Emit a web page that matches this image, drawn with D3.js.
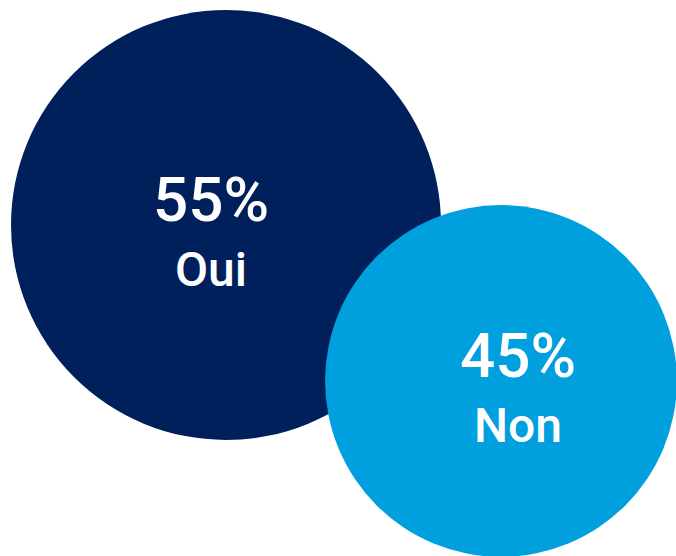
<!DOCTYPE html>
<html>
<head>
<meta charset="utf-8">
<script src="https://cdn.jsdelivr.net/npm/d3@7"></script>
<style>
body { margin: 0; background: #fff; }
</style>
</head>
<body>
<svg id="svg1"></svg>
<script>
var labels = ["Oui", "Non"];
var values = [55, 45];
var colors = ["#00205b", "#00a0df"];

var svg1 = d3.select("#svg1").attr("width", 676).attr("height", 556);

// radius proportional to the value
var rScale = d3.scaleLinear()
	.domain([0, 55])
	.range([0, 215]);

var centers = [[226, 225], [501, 381]];
var textOffset = [-15, 17];

var bubbles = svg1.selectAll(".bubble")
	.data(values)
	.enter()
	.append("g")
		.attr("class", "bubble")
		.attr("transform", function(d, i){
			return "translate(" + centers[i][0] + "," + centers[i][1] + ")";
		});

bubbles.append("circle")
	.attr("r", function(d){ return rScale(d); })
	.attr("fill", function(d, i){ return colors[i]; });

bubbles.append("text")
	.attr("x", function(d, i){ return textOffset[i]; })
	.attr("y", -4)
	.attr("text-anchor", "middle")
	.attr("fill", "white")
	.style("font-family", "Roboto, sans-serif")
	.style("font-weight", 500)
	.style("font-size", "62px")
	.text(function(d){ return d + "%"; });

bubbles.append("text")
	.attr("x", function(d, i){ return textOffset[i]; })
	.attr("y", 61)
	.attr("text-anchor", "middle")
	.attr("fill", "white")
	.style("font-family", "Roboto, sans-serif")
	.style("font-weight", 500)
	.style("font-size", "48px")
	.text(function(d, i){ return labels[i]; });
</script>
</body>
</html>
